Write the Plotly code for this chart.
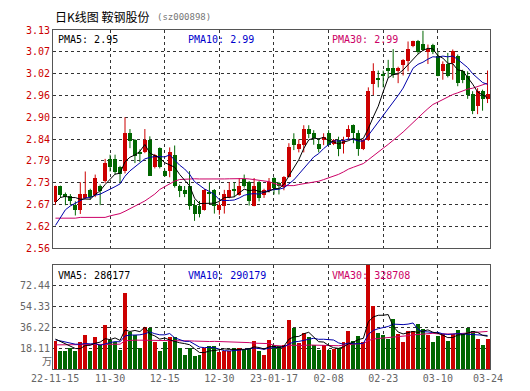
import plotly.graph_objects as go
import pandas as pd

# ---------------- data ----------------
opens = [2.680, 2.723, 2.700, 2.695, 2.672, 2.660, 2.691, 2.712, 2.699, 2.723,
         2.734, 2.793, 2.793, 2.772, 2.761, 2.861, 2.843, 2.812, 2.810, 2.843,
         2.771, 2.821, 2.762, 2.761, 2.802, 2.721, 2.712, 2.723, 2.673, 2.671,
         2.660, 2.705, 2.712, 2.660, 2.671, 2.693, 2.713, 2.699, 2.740, 2.732,
         2.671, 2.732, 2.699, 2.708, 2.743, 2.729, 2.720, 2.746, 2.844, 2.819,
         2.829, 2.871, 2.860, 2.832, 2.842, 2.860, 2.832, 2.842, 2.832, 2.851,
         2.881, 2.860, 2.819, 2.842, 2.990, 3.002, 3.012, 3.031, 3.031, 3.022,
         3.039, 3.050, 3.089, 3.102, 3.093, 3.072, 3.092, 3.061, 3.022, 3.041,
         3.045, 3.061, 3.022, 3.011, 2.963, 2.930, 2.971, 2.950]
highs = [2.723, 2.723, 2.705, 2.701, 2.682, 2.732, 2.760, 2.715, 2.752, 2.726,
         2.793, 2.804, 2.804, 2.775, 2.902, 2.871, 2.845, 2.818, 2.871, 2.852,
         2.806, 2.823, 2.765, 2.823, 2.828, 2.726, 2.722, 2.761, 2.686, 2.683,
         2.714, 2.731, 2.714, 2.680, 2.712, 2.732, 2.732, 2.743, 2.752, 2.735,
         2.743, 2.735, 2.715, 2.743, 2.745, 2.733, 2.748, 2.834, 2.860, 2.844,
         2.881, 2.881, 2.868, 2.847, 2.860, 2.868, 2.845, 2.851, 2.851, 2.881,
         2.883, 2.868, 2.845, 2.980, 3.043, 3.024, 3.024, 3.052, 3.080, 3.034,
         3.054, 3.100, 3.102, 3.104, 3.128, 3.092, 3.094, 3.074, 3.048, 3.070,
         3.079, 3.066, 3.026, 3.022, 2.970, 2.978, 2.974, 3.024]
lows = [2.673, 2.691, 2.672, 2.672, 2.645, 2.649, 2.688, 2.686, 2.693, 2.672,
        2.730, 2.760, 2.752, 2.731, 2.755, 2.821, 2.782, 2.785, 2.808, 2.749,
        2.768, 2.768, 2.746, 2.745, 2.718, 2.693, 2.693, 2.660, 2.631, 2.640,
        2.658, 2.675, 2.650, 2.647, 2.650, 2.690, 2.693, 2.697, 2.718, 2.671,
        2.669, 2.682, 2.691, 2.705, 2.700, 2.700, 2.711, 2.744, 2.816, 2.810,
        2.810, 2.847, 2.830, 2.810, 2.829, 2.827, 2.829, 2.800, 2.807, 2.842,
        2.834, 2.801, 2.816, 2.840, 2.960, 2.980, 2.980, 3.005, 3.005, 2.991,
        3.011, 3.022, 3.085, 3.068, 3.075, 3.041, 3.067, 3.009, 3.000, 3.006,
        3.000, 2.983, 2.991, 2.950, 2.910, 2.910, 2.919, 2.939]
closes = [2.723, 2.699, 2.695, 2.682, 2.660, 2.701, 2.702, 2.693, 2.743, 2.710,
          2.782, 2.771, 2.760, 2.754, 2.861, 2.841, 2.800, 2.808, 2.843, 2.749,
          2.804, 2.771, 2.749, 2.811, 2.721, 2.710, 2.700, 2.671, 2.650, 2.650,
          2.712, 2.703, 2.671, 2.673, 2.702, 2.712, 2.711, 2.723, 2.721, 2.682,
          2.723, 2.691, 2.712, 2.732, 2.718, 2.724, 2.746, 2.823, 2.829, 2.832,
          2.871, 2.858, 2.847, 2.819, 2.851, 2.829, 2.842, 2.819, 2.842, 2.871,
          2.860, 2.819, 2.842, 2.970, 3.023, 3.000, 3.010, 3.022, 3.012, 3.031,
          3.052, 3.080, 3.100, 3.072, 3.079, 3.080, 3.072, 3.011, 3.041, 3.011,
          3.074, 2.991, 3.000, 2.959, 2.919, 2.971, 2.950, 2.963]
volumes = [24.0, 15.8, 15.3, 18.2, 15.8, 23.4, 29.8, 15.8, 27.5, 20.5,
           38.5, 25.4, 23.4, 16.7, 66.1, 31.8, 29.8, 18.2, 36.7, 35.6,
           23.7, 15.8, 23.1, 28.3, 28.3, 18.7, 12.3, 18.2, 10.9, 11.8,
           18.2, 19.6, 19.6, 14.7, 15.8, 15.8, 18.7, 18.7, 16.4, 18.2,
           24.5, 15.8, 12.3, 25.4, 20.5, 19.6, 21.1, 43.0, 35.6, 22.5,
           31.2, 27.5, 21.1, 16.4, 21.1, 16.4, 17.6, 18.2, 23.4, 33.3,
           24.5, 28.9, 23.4, 95.0, 55.0, 31.5, 29.2, 26.3, 43.7, 30.3,
           23.1, 33.3, 33.3, 39.0, 34.9, 29.8, 23.1, 28.9, 30.3, 24.5,
           30.3, 34.1, 30.3, 35.6, 33.0, 26.5, 21.1, 26.2]

# moving-average values before enough history exists inside the window
ma5_head = [2.679, 2.692, 2.695, 2.692]
ma10_head = [2.619, 2.638, 2.660, 2.670, 2.677, 2.686, 2.691, 2.692, 2.698]
ma30_head = [2.638, 2.638, 2.638, 2.638, 2.638, 2.640, 2.640, 2.640, 2.640, 2.640,
             2.640, 2.644, 2.647, 2.650, 2.656, 2.663, 2.669, 2.675, 2.683, 2.692,
             2.701, 2.713, 2.721, 2.729, 2.735, 2.739, 2.740, 2.741, 2.741]
vma5_head = [26.0, 24.0, 21.9, 19.6]
vma10_head = [25.4, 24.5, 24.0, 22.5, 21.6, 21.6, 22.2, 21.9, 22.2]
vma30_head = [21.0, 21.0, 21.0, 21.2, 21.4, 21.6, 21.6, 21.6, 21.6, 21.6,
              21.6, 21.6, 21.6, 21.6, 24.6, 25.1, 25.1, 25.1, 25.1, 25.1,
              25.1, 25.1, 25.1, 25.0, 24.9, 24.8, 24.6, 24.5, 24.3]

date_labels = ["22-11-15", "11-30", "12-15", "12-30", "23-01-17",
               "02-08", "02-23", "03-10", "03-24"]
date_label_idx = [0, 11, 22, 33, 44, 55, 66, 77, 87]

price_tickvals = [2.56, 2.617, 2.674, 2.731, 2.788, 2.845, 2.902, 2.959, 3.016, 3.073, 3.13]
price_ticktext = ["2.56", "2.62", "2.67", "2.73", "2.79", "2.84", "2.90", "2.96", "3.02", "3.07", "3.13"]
vol_tickvals = [18.11, 36.22, 54.33, 72.44]
vol_ticktext = ["18.11", "36.22", "54.33", "72.44"]
vol_unit = "万"

title_text = "日K线图 鞍钢股份"
code_text = "(sz000898)"
pma_texts = ["PMA5: 2.95", "PMA10: 2.99", "PMA30: 2.99"]
vma_texts = ["VMA5: 286177", "VMA10: 290179", "VMA30: 328708"]

# ---------------- styling ----------------
RED = "#cc0000"
GREEN = "#006600"
C_MA5 = "#000000"
C_MA10 = "#0000aa"
C_MA30 = "#cc0066"
GRID = "#333333"
BORDER = "#555555"
MONO = "DejaVu Sans Mono, Liberation Mono, monospace"
CJK = "Noto Sans CJK SC, sans-serif"

W, H = 530, 391
ML, MR, MT, MB = 43, 48, 22, 30
PRICE_BOTTOM_PX, VOL_TOP_PX = 240, 257
plot_h = H - MT - MB
plot_w = W - ML - MR


def py(px):  # pixel row -> paper y
    return (H - MB - px) / plot_h


def px_(x):  # pixel column -> paper x
    return (x - ML) / plot_w


n = len(closes)
idx = list(range(n))
df = pd.DataFrame({"o": opens, "h": highs, "l": lows, "c": closes, "v": volumes})


def ma(series, w, head):
    r = series.rolling(w).mean().tolist()
    return head + r[len(head):]


ma5 = ma(df["c"], 5, ma5_head)
ma10 = ma(df["c"], 10, ma10_head)
ma30 = ma(df["c"], 30, ma30_head)
vma5 = ma(df["v"], 5, vma5_head)
vma10 = ma(df["v"], 10, vma10_head)
vma30 = ma(df["v"], 30, vma30_head)

up = [c >= o for o, c in zip(opens, closes)]

fig = go.Figure()

# wicks
for flag, col in ((True, RED), (False, GREEN)):
    xs, ys = [], []
    for i in idx:
        if up[i] == flag:
            xs += [i, i, None]
            ys += [lows[i], highs[i], None]
    fig.add_trace(go.Scatter(x=xs, y=ys, mode="lines", line=dict(color=col, width=1),
                             hoverinfo="skip", showlegend=False, xaxis="x", yaxis="y"))

# bodies
for flag, col in ((True, RED), (False, GREEN)):
    bx, bb, bh = [], [], []
    for i in idx:
        if up[i] == flag:
            lo, hi = min(opens[i], closes[i]), max(opens[i], closes[i])
            bx.append(i)
            bb.append(lo)
            bh.append(max(hi - lo, 0.003))
    fig.add_trace(go.Bar(x=bx, y=bh, base=bb, width=0.8, marker=dict(color=col, line=dict(width=0)),
                         showlegend=False, xaxis="x", yaxis="y"))

# price MAs
for vals, col in ((ma30, C_MA30), (ma10, C_MA10), (ma5, C_MA5)):
    fig.add_trace(go.Scatter(x=idx, y=vals, mode="lines", line=dict(color=col, width=1),
                             showlegend=False, xaxis="x", yaxis="y"))

# volume bars
fig.add_trace(go.Bar(x=idx, y=volumes, width=0.8,
                     marker=dict(color=[RED if u else GREEN for u in up], line=dict(width=0)),
                     showlegend=False, xaxis="x2", yaxis="y2"))
for vals, col in ((vma30, C_MA30), (vma10, C_MA10), (vma5, C_MA5)):
    fig.add_trace(go.Scatter(x=idx, y=vals, mode="lines", line=dict(color=col, width=1),
                             showlegend=False, xaxis="x2", yaxis="y2"))

grid_idx = date_label_idx[1:-1]
axis_common = dict(showline=True, mirror=True, linecolor=BORDER, linewidth=1,
                   showgrid=True, gridcolor=GRID, griddash="dot", gridwidth=1,
                   zeroline=False, ticks="", fixedrange=True)

fig.update_layout(
    width=W, height=H,
    margin=dict(l=ML, r=MR, t=MT, b=MB, pad=0),
    paper_bgcolor="white", plot_bgcolor="white",
    barmode="overlay", bargap=0,
    showlegend=False,
    xaxis=dict(domain=[0, 1], range=[-0.5, n - 0.5], anchor="y",
               tickvals=grid_idx, showticklabels=False, **axis_common),
    yaxis=dict(domain=[py(PRICE_BOTTOM_PX), 1], range=[2.56, 3.13], anchor="x",
               tickvals=price_tickvals, ticktext=price_ticktext,
               tickfont=dict(family=MONO, size=10, color=RED), **axis_common),
    xaxis2=dict(domain=[0, 1], range=[-0.5, n - 0.5], anchor="y2", matches="x",
                tickvals=grid_idx, ticktext=date_labels[1:-1],
                tickfont=dict(family=MONO, size=10, color="#666666"), **axis_common),
    yaxis2=dict(domain=[0, py(VOL_TOP_PX)], range=[0, 90.55], anchor="x2",
                tickvals=vol_tickvals, ticktext=vol_ticktext,
                tickfont=dict(family=MONO, size=10, color="#666666"), **axis_common),
)

ann = []
# end date labels
for k in (0, len(date_labels) - 1):
    ann.append(dict(x=date_label_idx[k], y=0, xref="x2", yref="paper", text=date_labels[k],
                    showarrow=False, xanchor="center", yanchor="top", yshift=-2,
                    font=dict(family=MONO, size=10, color="#666666")))
# title
ann.append(dict(x=px_(43), y=py(8), xref="paper", yref="paper", text=title_text, showarrow=False,
                xanchor="left", yanchor="middle", font=dict(family=CJK, size=12, color="#000000")))
ann.append(dict(x=px_(145), y=py(9), xref="paper", yref="paper", text=code_text, showarrow=False,
                xanchor="left", yanchor="middle", font=dict(family=MONO, size=9, color="#777777")))
# MA legends
for txt, col, x in zip(pma_texts, (C_MA5, "#0000cc", C_MA30), (46, 177, 321)):
    ann.append(dict(x=px_(x), y=py(32), xref="paper", yref="paper", text=txt, showarrow=False,
                    xanchor="left", yanchor="middle", font=dict(family=MONO, size=10, color=col)))
for txt, col, x in zip(vma_texts, (C_MA5, "#0000cc", C_MA30), (46, 177, 321)):
    ann.append(dict(x=px_(x), y=py(267), xref="paper", yref="paper", text=txt, showarrow=False,
                    xanchor="left", yanchor="middle", font=dict(family=MONO, size=10, color=col)))
# volume unit
ann.append(dict(x=px_(37), y=py(352), xref="paper", yref="paper", text=vol_unit, showarrow=False,
                xanchor="center", yanchor="middle", font=dict(family=CJK, size=10, color="#666666")))
fig.update_layout(annotations=ann)

fig.write_html("out.html")
